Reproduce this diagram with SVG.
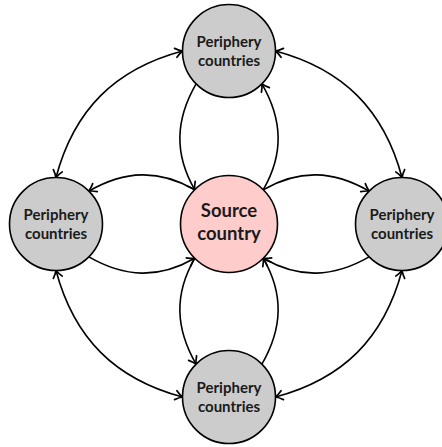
<svg xmlns="http://www.w3.org/2000/svg" width="442" height="447" viewBox="0 0 442 447">
  <style>
    .per circle { fill: #cccccc; stroke: #000; stroke-width: 1.6; }
    .src circle { fill: #ffcccc; stroke: #000; stroke-width: 1.6; }
    text { font-family: Lato, "Liberation Sans", sans-serif; font-weight: bold; fill: #1a1a1a; text-anchor: middle; }
    .per text { font-size: 15px; }
    .src text { font-size: 18.5px; }
    #connectors path { fill: none; stroke: #000; stroke-width: 1.6; }
  </style>
  <defs>
    <marker id="arr" viewBox="-9 -6 11 12" markerWidth="11" markerHeight="12" refX="0" refY="0" orient="auto-start-reverse" markerUnits="userSpaceOnUse" overflow="visible">
      <path d="M -7,-4.6 Q -3,-1.3 0,0 Q -3,1.3 -7,4.6" fill="none" stroke="#000" stroke-width="1.7" stroke-linecap="round" stroke-linejoin="round"/>
    </marker>
  </defs>

  <g id="connectors">
    <!-- outer ring, bidirectional -->
    <path d="M 275.5,51 C 343.2,69.1 383.9,109.8 402,177.5" marker-start="url(#arr)" marker-end="url(#arr)"/>
    <path d="M 182.5,51 C 114.8,69.1 74.1,109.8 56,177.5" marker-start="url(#arr)" marker-end="url(#arr)"/>
    <path d="M 275.5,397 C 343.2,378.9 383.9,338.2 402,270.5" marker-start="url(#arr)" marker-end="url(#arr)"/>
    <path d="M 182.5,397 C 114.8,378.9 74.1,338.2 56,270.5" marker-start="url(#arr)" marker-end="url(#arr)"/>
    <!-- top lobe -->
    <path d="M 196.1,83.9 C 175.4,119.8 174,153.8 194.7,189.7" marker-end="url(#arr)"/>
    <path d="M 263.3,189.7 C 284,153.8 282.6,119.8 261.9,83.9" marker-end="url(#arr)"/>
    <!-- bottom lobe -->
    <path d="M 194.7,258.3 C 174,294.2 175.4,328.2 196.1,364.1" marker-end="url(#arr)"/>
    <path d="M 261.9,364.1 C 282.6,328.2 284,294.2 263.3,258.3" marker-end="url(#arr)"/>
    <!-- left lobe -->
    <path d="M 194.7,189.7 C 158.8,169 124.8,170.4 88.9,191.1" marker-end="url(#arr)"/>
    <path d="M 88.9,256.9 C 124.8,277.6 158.8,279 194.7,258.3" marker-end="url(#arr)"/>
    <!-- right lobe -->
    <path d="M 263.3,189.7 C 299.2,169 333.2,170.4 369.1,191.1" marker-end="url(#arr)"/>
    <path d="M 369.1,256.9 C 333.2,277.6 299.2,279 263.3,258.3" marker-end="url(#arr)"/>
  </g>

  <g id="source" class="src">
    <circle cx="229" cy="224" r="48.5"/>
    <text x="229" y="217">Source</text>
    <text x="229" y="239.5">country</text>
  </g>
  <g id="top" class="per">
    <circle cx="229" cy="51" r="46.5"/>
    <text x="229" y="47">Periphery</text>
    <text x="229" y="65.5">countries</text>
  </g>
  <g id="left" class="per">
    <circle cx="56" cy="224" r="46.5"/>
    <text x="56" y="220">Periphery</text>
    <text x="56" y="238.5">countries</text>
  </g>
  <g id="right" class="per">
    <circle cx="402" cy="224" r="46.5"/>
    <text x="402" y="220">Periphery</text>
    <text x="402" y="238.5">countries</text>
  </g>
  <g id="bottom" class="per">
    <circle cx="229" cy="397" r="46.5"/>
    <text x="229" y="393">Periphery</text>
    <text x="229" y="411.5">countries</text>
  </g>
</svg>
